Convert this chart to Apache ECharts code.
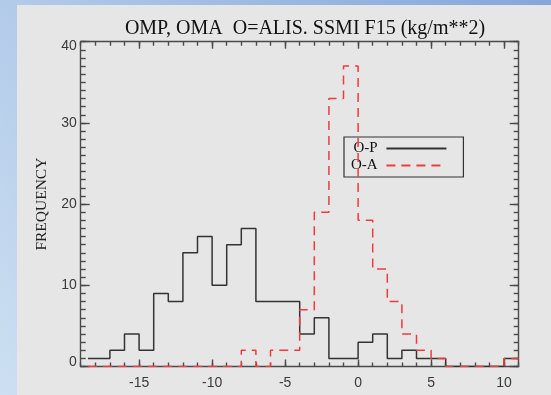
<!DOCTYPE html>
<html>
<head>
<meta charset="utf-8">
<script src="https://cdn.jsdelivr.net/npm/echarts@6/dist/echarts.min.js"></script>
<style>
  html, body { margin: 0; padding: 0; }
  #chart { width: 551px; height: 395px; }
</style>
</head>
<body>
<div id="chart"></div>
<script>
// Histogram bin centres (bin width 1, kg/m**2)
const binCenters = [-18.5, -17.5, -16.5, -15.5, -14.5, -13.5, -12.5, -11.5, -10.5, -9.5,
                    -8.5, -7.5, -6.5, -5.5, -4.5, -3.5, -2.5, -1.5, -0.5, 0.5,
                    1.5, 2.5, 3.5, 4.5, 5.5, 6.5, 7.5, 8.5, 9.5, 10.5];
// Observation minus prior
const countsOP = [1, 1, 2, 4, 2, 9, 8, 14, 16, 10,
                  15, 17, 8, 8, 8, 4, 6, 1, 1, 3,
                  4, 1, 2, 1, 1, 0, 0, 0, 0, 1];
// Observation minus analysis
const countsOA = [0, 0, 0, 0, 0, 0, 0, 0, 0, 0,
                  0, 2, 0, 2, 2, 7, 19, 33, 37, 18,
                  12, 8, 4, 2, 1, 0, 0, 0, 0, 1];

const xMin = -19, xMax = 11;
const yMin = 0, yMax = 40;
const xMajorTicks = [-15, -10, -5, 0, 5, 10];

const titleText = 'OMP, OMA  O=ALIS. SSMI F15 (kg/m**2)';
const yName = 'FREQUENCY';

// Step line data: each bin centre, with the last bin carried to the axis end
function stepData(counts) {
  const d = binCenters.map((c, i) => [c, counts[i]]);
  d.push([xMax, counts[counts.length - 1]]);
  return d;
}

const SERIF = '"Liberation Serif", "Times New Roman", serif';
const SANS = '"Liberation Sans", Arial, sans-serif';
const frameColor = '#4a4a4a';
const lineStyleAxis = { color: frameColor, width: 1.4 };
const labelColor = '#3a3a3a';

function minorX(pos) {
  return {
    type: 'value', min: xMin, max: xMax, interval: 1, position: pos,
    axisLine: { show: true, onZero: false, lineStyle: lineStyleAxis },
    axisTick: { show: true, inside: true, length: 4, lineStyle: lineStyleAxis },
    axisLabel: { show: false }, splitLine: { show: false }
  };
}
function majorX(pos, labels) {
  return {
    type: 'value', min: xMin, max: xMax, position: pos,
    axisLine: { show: false, onZero: false },
    axisTick: { show: true, inside: true, length: 7, customValues: xMajorTicks, lineStyle: lineStyleAxis },
    axisLabel: labels ? {
      show: true, customValues: xMajorTicks, margin: 10,
      color: labelColor, fontFamily: SANS, fontSize: 14
    } : { show: false },
    splitLine: { show: false }
  };
}
function minorY(pos) {
  return {
    type: 'value', min: yMin, max: yMax, interval: 1, position: pos,
    axisLine: { show: true, onZero: false, lineStyle: lineStyleAxis },
    axisTick: { show: true, inside: true, length: 5, lineStyle: lineStyleAxis },
    axisLabel: { show: false }, splitLine: { show: false }
  };
}
function majorY(pos, labels) {
  const ax = {
    type: 'value', min: yMin, max: yMax, interval: 10, position: pos,
    axisLine: { show: false, onZero: false },
    axisTick: { show: true, inside: true, length: 9, lineStyle: lineStyleAxis },
    axisLabel: { show: false },
    splitLine: { show: false }
  };
  if (labels) {
    ax.axisLabel = {
      show: true, margin: 4, color: labelColor, fontFamily: SANS, fontSize: 14,
      formatter: function (v) {
        if (v === yMax) return '{hi|' + v + '}';
        if (v === yMin) return '{lo|' + v + '}';
        return '' + v;
      },
      rich: {
        hi: { padding: [9, 0, 0, 0], color: labelColor, fontFamily: SANS, fontSize: 14 },
        lo: { padding: [0, 0, 9, 0], color: labelColor, fontFamily: SANS, fontSize: 14 }
      }
    };
    ax.name = yName;
    ax.nameLocation = 'middle';
    ax.nameGap = 31;
    ax.nameTextStyle = { fontFamily: SERIF, fontSize: 15.5, color: '#222' };
  }
  return ax;
}

const chart = echarts.init(document.getElementById('chart'), null, { renderer: 'canvas' });

chart.setOption({
  animation: false,
  graphic: [
    {
      type: 'rect', z: -20, silent: true,
      shape: { x: 0, y: 0, width: 551, height: 395 },
      style: {
        fill: new echarts.graphic.LinearGradient(1, 0, 0, 1, [
          { offset: 0, color: '#86a6da' },
          { offset: 0.5, color: '#a7c2e6' },
          { offset: 1, color: '#cde0f2' }
        ])
      }
    },
    {
      type: 'rect', z: -10, silent: true,
      shape: { x: 17, y: 5, width: 534, height: 390 },
      style: { fill: '#e6e6e6' }
    }
  ],
  title: {
    text: titleText,
    left: 300, top: 14, textAlign: 'center',
    textStyle: { fontFamily: SERIF, fontSize: 20, fontWeight: 'normal', color: '#111' }
  },
  grid: { left: 80.7, right: 32.3, top: 41.7, bottom: 28.5, containLabel: false },
  xAxis: [minorX('bottom'), majorX('bottom', true), minorX('top'), majorX('top', false)],
  yAxis: [minorY('left'), majorY('left', true), minorY('right'), majorY('right', false)],
  legend: {
    orient: 'vertical', left: 344, top: 137, align: 'right',
    padding: [4, 16, 4, 7], itemGap: 2, itemWidth: 60, itemHeight: 14,
    borderColor: '#333', borderWidth: 1.2,
    itemStyle: { opacity: 0 },
    formatter: function (name) { return name + ' '; },
    textStyle: { fontFamily: SERIF, fontSize: 15, color: '#111' },
    data: ['O-P', 'O-A']
  },
  series: [
    {
      name: 'O-P', type: 'line', step: 'middle', symbol: 'none',
      xAxisIndex: 0, yAxisIndex: 0,
      lineStyle: { color: '#333333', width: 1.5 },
      itemStyle: { color: '#333333' },
      data: stepData(countsOP), z: 3
    },
    {
      name: 'O-A', type: 'line', step: 'middle', symbol: 'none',
      xAxisIndex: 0, yAxisIndex: 0,
      lineStyle: { color: '#f23a3a', width: 1.5, type: [9, 6] },
      itemStyle: { color: '#f23a3a' },
      data: stepData(countsOA), z: 4
    }
  ]
});
</script>
</body>
</html>
